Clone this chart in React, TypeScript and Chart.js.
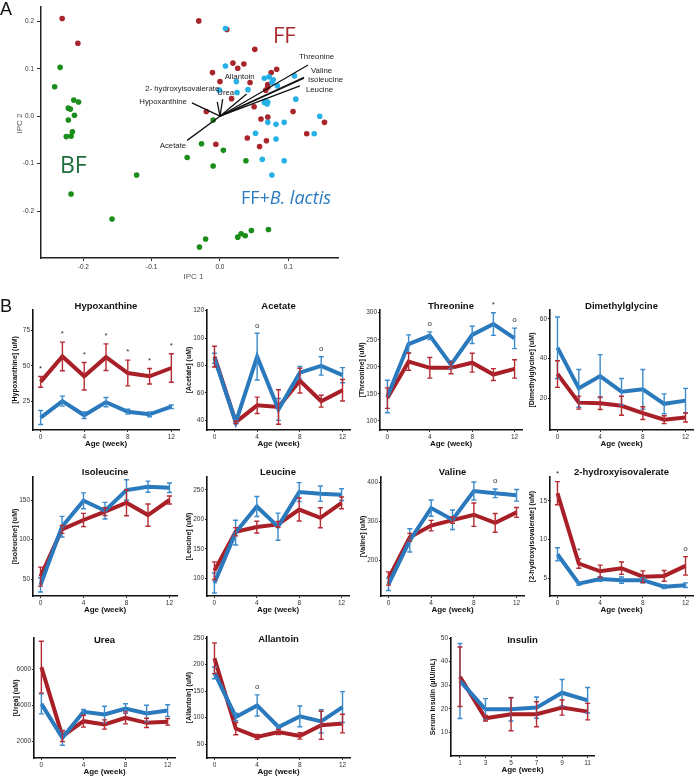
import React, { useEffect, useRef } from "react";
import { Chart, registerables } from "chart.js";

Chart.register(...registerables);

const FONT = '"Liberation Sans", Arial, Helvetica, sans-serif';
Chart.defaults.font.family = FONT;

// ---------------- Panel A data (PCA scores) ----------------
const bfX = [-0.234, -0.242, -0.214, -0.207, -0.222, -0.219, -0.213, -0.222, -0.216, -0.225, -0.218, -0.218, -0.122, -0.158, -0.048, -0.027, -0.01, 0.005, -0.01, 0.038, -0.03, -0.021, 0.026, 0.031, 0.037, 0.046, 0.071];
const bfY = [0.103, 0.062, 0.034, 0.03, 0.017, 0.015, 0.002, -0.008, -0.033, -0.043, -0.042, -0.164, -0.124, -0.217, -0.087, -0.058, -0.008, -0.072, -0.105, -0.094, -0.276, -0.259, -0.255, -0.248, -0.252, -0.241, -0.239];
const ffX = [-0.231, -0.208, -0.031, 0.01, 0.051, -0.011, 0.0, 0.019, 0.035, 0.026, 0.044, 0.017, -0.02, 0.05, 0.067, 0.07, 0.075, 0.083, 0.06, 0.07, 0.107, 0.153, 0.127, 0.04, 0.058, 0.068, -0.006, 0.07];
const ffY = [0.206, 0.154, 0.201, 0.183, 0.141, 0.092, 0.073, 0.112, 0.11, 0.101, 0.071, 0.037, 0.01, 0.02, 0.055, 0.067, 0.092, 0.099, -0.006, -0.002, 0.01, -0.013, -0.037, -0.046, -0.064, -0.052, -0.059, 0.061];
const blX = [0.008, 0.008, 0.024, 0.025, -0.001, 0.041, 0.065, 0.072, 0.078, 0.076, 0.084, 0.109, 0.111, 0.065, 0.069, 0.07, 0.066, 0.146, 0.138, 0.07, 0.082, 0.094, 0.052, 0.082, 0.062, 0.094, 0.076];
const blY = [0.185, 0.106, 0.073, 0.05, 0.055, 0.056, 0.08, 0.083, 0.077, 0.071, 0.064, 0.085, 0.036, 0.029, 0.026, 0.03, 0.032, 0.0, -0.037, -0.013, -0.017, -0.013, -0.036, -0.048, -0.091, -0.094, -0.124];

// loading vectors
const loadingNames = ["Threonine", "Valine", "Isoleucine", "Leucine", "Allantoin", "Urea", "2- hydroxyisovalerate", "Hypoxanthine", "Acetate"];
const loadingX = [0.129, 0.123, 0.123, 0.117, 0.039, 0.004, -0.004, -0.041, -0.048];
const loadingY = [0.108, 0.082, 0.08, 0.064, 0.047, 0.036, 0.03, 0.028, -0.051];

const pcaXTicks = [-0.2, -0.1, 0.0, 0.1];
const pcaYTicks = [-0.2, -0.1, 0.0, 0.1, 0.2];

// ---------------- Panel B data ----------------
const weeks = [0, 2, 4, 6, 8, 10, 12];
const weekTicks = [0, 4, 8, 12];
const insulinWeeks = [1, 3, 5, 7, 9, 11];
const insulinTicks = [1, 3, 5, 7, 9, 11];

const hypoFF = [38.7, 56.5, 42.6, 56.0, 44.9, 42.6, 48.4];
const hypoFFErr = [3.8, 10, 9.6, 9.3, 9, 5.4, 10];
const hypoBL = [13.7, 25.2, 15.3, 24.5, 17.8, 16.0, 21.3];
const hypoBLErr = [4.9, 3.5, 2.3, 3.2, 1.7, 1.7, 1.2];
const hypoTicks = [25, 50, 75];
const hypoMarks = ["*", "*", "*", "*", "*", "*", "*"];

const acetFF = [86.5, 38.7, 51, 49.8, 69, 54, 62];
const acetFFErr = [7.6, 1, 6, 12.6, 9, 4.3, 7.8];
const acetBL = [85.3, 38.7, 86.5, 48.0, 74.8, 79.7, 73];
const acetBLErr = [3.7, 1, 17, 8, 4.5, 6.7, 5.5];
const acetTicks = [40, 60, 80, 100, 120];
const acetMarks = ["", "", "o", "", "", "o", ""];

const thrFF = [142, 209.5, 198, 198, 207.5, 185.6, 196];
const thrFFErr = [19, 16, 19, 11, 17.5, 11, 17];
const thrBL = [145, 242, 257.5, 204, 259, 279, 252.5];
const thrBLErr = [30, 17, 7, 7, 16, 21, 19];
const thrTicks = [100, 150, 200, 250, 300];
const thrMarks = ["", "", "o", "", "", "*", "o"];

const dmgFF = [32.2, 17.8, 17.5, 16.2, 12.5, 9.2, 10.3];
const dmgFFErr = [6.7, 3.3, 3.2, 4.8, 3.2, 2, 2.3];
const dmgBL = [45.5, 25, 31.2, 23.3, 24.5, 17.2, 18.8];
const dmgBLErr = [15.5, 9.5, 10.8, 6.7, 10, 5, 6.2];
const dmgTicks = [20, 40, 60];
const dmgMarks = ["", "", "", "", "", "", ""];

const ileFF = [53.4, 113, 124.8, 135.3, 146.6, 131, 150];
const ileFFErr = [12, 5, 8.4, 5, 16.4, 14, 5];
const ileBL = [43, 116.4, 149, 136.5, 162.6, 166.8, 165.5];
const ileBLErr = [9, 13, 10, 10.5, 13, 7, 6];
const ileTicks = [50, 100, 150];
const ileMarks = ["", "", "", "", "", "", ""];

const leuFF = [113, 179, 187, 191.6, 216.8, 202.8, 228];
const leuFFErr = [15, 7, 10, 5, 19.5, 17, 10];
const leuBL = [92, 177.6, 222, 187.7, 246.4, 243.6, 242];
const leuBLErr = [17, 21, 17, 23, 16, 13, 10];
const leuTicks = [100, 150, 200, 250];
const leuMarks = ["", "", "", "", "", "", ""];

const valFF = [153, 259, 289, 303, 317, 296, 323];
const valFFErr = [17, 10, 13.5, 8, 30, 24, 12.7];
const valBL = [138, 251, 334, 304, 378, 372, 367];
const valBLErr = [16, 30, 21, 25, 23, 11, 15];
const valTicks = [200, 300, 400];
const valMarks = ["", "", "", "", "", "o", ""];

const hivFF = [16, 6.9, 5.9, 6.3, 5.2, 5.3, 6.6];
const hivFFErr = [1.5, 0.6, 0.8, 0.8, 0.75, 0.7, 1.2];
const hivBL = [8.1, 4.3, 4.9, 4.75, 4.75, 3.9, 4.1];
const hivBLErr = [0.85, 0.2, 0.3, 0.4, 0.35, 0.25, 0.3];
const hivTicks = [5, 10, 15];
const hivMarks = ["*", "*", "", "", "", "", "o"];

const ureaFF = [6140, 2290, 3126, 2940, 3312, 3033, 3088];
const ureaFFErr = [1450, 300, 330, 260, 335, 260, 185];
const ureaBL = [4093, 2195, 3646, 3498, 3833, 3553, 3721];
const ureaBLErr = [560, 410, 140, 465, 270, 465, 325];
const ureaTicks = [2000, 4000, 6000];
const ureaMarks = ["", "", "", "", "", "", ""];

const allFF = [212, 79.4, 63.8, 73, 65.6, 85.6, 88.8];
const allFFErr = [29, 11.5, 4.4, 5, 6, 26.5, 17.5];
const allBL = [184.4, 101.3, 123, 82.5, 102.5, 93, 120];
const allBLErr = [11, 7, 20, 3, 19.5, 22, 29];
const allTicks = [50, 100, 150, 200, 250];
const allMarks = ["", "", "o", "", "", "", ""];

const insFF = [33.6, 16, 17.7, 17.7, 20.5, 18.8];
const insFFErr = [12.6, 1.2, 7, 5.3, 3.2, 3.5];
const insBL = [31.8, 19.8, 19.8, 20.5, 26.8, 23.6];
const insBLErr = [15.9, 4.5, 5, 4.5, 5.6, 5.4];
const insTicks = [10, 20, 30, 40, 50];
const insMarks = ["", "", "", "", "", ""];

// ---------------- styles ----------------
const RED = "#a81f27";
const BLUE = "#2b79bd";
const RED_ERR = "#b52b33";
const BLUE_ERR = "#3c8bcc";
const PT_RED = "#a8252b";
const PT_GREEN = "#1b8d1b";
const PT_BLUE = "#25b0e6";

type Panel = {
  title: string;
  yTitle: string;
  x: number[];
  xTicks: number[];
  xMin: number;
  xMax: number;
  yMin: number;
  yMax: number;
  yTicks: number[];
  ff: number[];
  ffErr: number[];
  bl: number[];
  blErr: number[];
  marks: string[];
  box: [number, number, number, number];
  titleDy: number;
};

const YW = 34;
const XH = 24;
const PT = 16;

function SmallChart({ p }: { p: Panel }) {
  const ref = useRef<HTMLCanvasElement>(null);
  const [L, T, R, B] = p.box;
  const cl = L - YW;
  const ct = T - PT;
  const cw = R + 3 - cl;
  const ch = B + XH - ct;
  useEffect(() => {
    const decor = {
      id: "decor",
      afterDatasetsDraw(chart: any) {
        const { ctx, chartArea } = chart;
        const xs = chart.scales.x;
        const ys = chart.scales.y;
        ctx.save();
        const series = [
          { v: p.bl, e: p.blErr, c: BLUE_ERR },
          { v: p.ff, e: p.ffErr, c: RED_ERR },
        ];
        ctx.lineWidth = 1.4;
        series.forEach((s) => {
          ctx.strokeStyle = s.c;
          s.v.forEach((v, i) => {
            const px = xs.getPixelForValue(p.x[i]);
            const top = ys.getPixelForValue(v + s.e[i]);
            const bot = ys.getPixelForValue(v - s.e[i]);
            ctx.beginPath();
            ctx.moveTo(px, top);
            ctx.lineTo(px, bot);
            ctx.moveTo(px - 2.5, top);
            ctx.lineTo(px + 2.5, top);
            ctx.moveTo(px - 2.5, bot);
            ctx.lineTo(px + 2.5, bot);
            ctx.stroke();
          });
        });
        // significance marks
        ctx.fillStyle = "#333";
        ctx.font = `8px ${FONT}`;
        ctx.textAlign = "center";
        ctx.textBaseline = "middle";
        p.marks.forEach((m, i) => {
          if (!m) return;
          const top = Math.min(
            ys.getPixelForValue(p.bl[i] + p.blErr[i]),
            ys.getPixelForValue(p.ff[i] + p.ffErr[i])
          );
          ctx.fillText(m, xs.getPixelForValue(p.x[i]), top - 8);
        });
        // chart title
        ctx.fillStyle = "#111";
        ctx.font = `bold 9.5px ${FONT}`;
        ctx.fillText(p.title, (chartArea.left + chartArea.right) / 2, chartArea.top + p.titleDy);
        // x title
        ctx.font = `bold 8px ${FONT}`;
        ctx.fillText("Age (week)", (chartArea.left + chartArea.right) / 2, chartArea.bottom + 14);
        // y title
        ctx.font = `bold 7px ${FONT}`;
        ctx.translate(chartArea.left - 18, (chartArea.top + chartArea.bottom) / 2);
        ctx.rotate(-Math.PI / 2);
        ctx.fillText(p.yTitle, 0, 0);
        ctx.restore();
      },
    };
    const chart = new Chart(ref.current as HTMLCanvasElement, {
      type: "line",
      data: {
        datasets: [
          {
            data: p.x.map((x, i) => ({ x, y: p.bl[i] })),
            borderColor: BLUE,
            borderWidth: 4,
            pointRadius: 0,
            tension: 0,
            fill: false,
          },
          {
            data: p.x.map((x, i) => ({ x, y: p.ff[i] })),
            borderColor: RED,
            borderWidth: 4,
            pointRadius: 0,
            tension: 0,
            fill: false,
          },
        ],
      },
      options: {
        animation: false,
        responsive: false,
        events: [],
        layout: { padding: { top: PT, right: 3, left: 0, bottom: 0 } },
        plugins: { legend: { display: false }, tooltip: { enabled: false } },
        scales: {
          x: {
            type: "linear",
            min: p.xMin,
            max: p.xMax,
            afterBuildTicks: (s: any) => {
              s.ticks = p.xTicks.map((v) => ({ value: v }));
            },
            afterFit: (s: any) => {
              s.height = XH;
            },
            grid: { drawOnChartArea: false, tickLength: 2, color: "#222" },
            border: { color: "#111", width: 1.6 },
            ticks: {
              font: { size: 6.5 },
              color: "#333",
              padding: 1,
              maxRotation: 0,
              autoSkip: false,
              callback: (v: any) => String(v),
            },
          },
          y: {
            type: "linear",
            min: p.yMin,
            max: p.yMax,
            afterBuildTicks: (s: any) => {
              s.ticks = p.yTicks.map((v) => ({ value: v }));
            },
            afterFit: (s: any) => {
              s.width = YW;
            },
            grid: { drawOnChartArea: false, tickLength: 2, color: "#222" },
            border: { color: "#111", width: 1.6 },
            ticks: {
              font: { size: 6.5 },
              color: "#333",
              padding: 1,
              autoSkip: false,
              callback: (v: any) => String(v),
            },
          },
        },
      } as any,
      plugins: [decor],
    });
    return () => chart.destroy();
  }, []);
  return (
    <canvas
      ref={ref}
      width={cw}
      height={ch}
      style={{ position: "absolute", left: cl, top: ct, width: cw, height: ch }}
    />
  );
}

// label offsets from each loading vector end (px): dx, dy, align
const LABEL_OFFSETS: [number, number, CanvasTextAlign][] = [
  [-9, -8, "left"],
  [7, -6, "left"],
  [4, 2, "left"],
  [6, 4, "left"],
  [-7, -17, "center"],
  [3, -6, "center"],
  [2, -13, "right"],
  [-5, -1, "right"],
  [-1, 5, "right"],
];

function PcaChart() {
  const ref = useRef<HTMLCanvasElement>(null);
  const W = 345;
  const H = 285;
  useEffect(() => {
    const pts = (xs: number[], ys: number[]) => xs.map((x, i) => ({ x, y: ys[i] }));
    const decor = {
      id: "pcaDecor",
      afterDatasetsDraw(chart: any) {
        const { ctx, chartArea } = chart;
        const xs = chart.scales.x;
        const ys = chart.scales.y;
        ctx.save();
        ctx.font = `7.8px ${FONT}`;
        ctx.fillStyle = "#222";
        ctx.textBaseline = "middle";
        loadingNames.forEach((n, i) => {
          const o = LABEL_OFFSETS[i];
          ctx.textAlign = o[2];
          ctx.fillText(n, xs.getPixelForValue(loadingX[i]) + o[0], ys.getPixelForValue(loadingY[i]) + o[1]);
        });
        // group labels
        ctx.textBaseline = "alphabetic";
        ctx.textAlign = "left";
        ctx.font = `22px "Open Sans", ${FONT}`;
        ctx.fillStyle = "#a72a30";
        ctx.fillText("FF", 273, 43);
        ctx.fillStyle = "#1f6d3d";
        ctx.font = `23px "Open Sans", ${FONT}`;
        ctx.fillText("BF", 60, 173);
        ctx.fillStyle = "#2a7bc0";
        ctx.font = `18px "Open Sans", ${FONT}`;
        const pre = "FF+";
        ctx.fillText(pre, 241, 204);
        const w = ctx.measureText(pre).width;
        ctx.font = `italic 18px "Open Sans", ${FONT}`;
        ctx.fillText("B. lactis", 241 + w, 204);
        // axis titles
        ctx.font = `8px ${FONT}`;
        ctx.fillStyle = "#555";
        ctx.textAlign = "center";
        ctx.textBaseline = "middle";
        ctx.fillText("IPC 1", (chartArea.left + chartArea.right) / 2 + 4, chartArea.bottom + 19);
        ctx.translate(chartArea.left - 21, (chartArea.top + chartArea.bottom) / 2 - 9);
        ctx.rotate(-Math.PI / 2);
        ctx.fillText("IPC 2", 0, 0);
        ctx.restore();
      },
    };
    const lineSets = loadingNames.map((n, i) => ({
      label: n,
      data: [
        { x: 0, y: 0 },
        { x: loadingX[i], y: loadingY[i] },
      ],
      showLine: true,
      borderColor: "#111",
      borderWidth: 1.3,
      pointRadius: 0,
    }));
    const chart = new Chart(ref.current as HTMLCanvasElement, {
      type: "scatter",
      data: {
        datasets: [
          ...lineSets,
          { label: "FF+B. lactis", data: pts(blX, blY), backgroundColor: PT_BLUE, pointRadius: 2.8, borderWidth: 0 },
          { label: "FF", data: pts(ffX, ffY), backgroundColor: PT_RED, pointRadius: 2.8, borderWidth: 0 },
          { label: "BF", data: pts(bfX, bfY), backgroundColor: PT_GREEN, pointRadius: 2.8, borderWidth: 0 },
        ],
      },
      options: {
        animation: false,
        responsive: false,
        events: [],
        layout: { padding: { top: 6, right: W - 338, left: 0, bottom: 0 } },
        plugins: { legend: { display: false }, tooltip: { enabled: false } },
        scales: {
          x: {
            type: "linear",
            min: -0.262,
            max: 0.1728,
            afterBuildTicks: (s: any) => {
              s.ticks = pcaXTicks.map((v) => ({ value: v }));
            },
            afterFit: (s: any) => {
              s.height = H - 258;
            },
            grid: { drawOnChartArea: false, tickLength: 3, color: "#333" },
            border: { color: "#222", width: 1.5 },
            ticks: {
              font: { size: 6.5 },
              color: "#333",
              padding: 2,
              maxRotation: 0,
              autoSkip: false,
              callback: (v: any) => Number(v).toFixed(1),
            },
          },
          y: {
            type: "linear",
            min: -0.299,
            max: 0.2305,
            afterBuildTicks: (s: any) => {
              s.ticks = pcaYTicks.map((v) => ({ value: v }));
            },
            afterFit: (s: any) => {
              s.width = 41;
            },
            grid: { drawOnChartArea: false, tickLength: 4, color: "#333" },
            border: { color: "#222", width: 1.5 },
            ticks: {
              font: { size: 6.5 },
              color: "#333",
              padding: 3,
              autoSkip: false,
              callback: (v: any) => Number(v).toFixed(1),
            },
          },
        },
      } as any,
      plugins: [decor],
    });
    return () => chart.destroy();
  }, []);
  return <canvas ref={ref} width={W} height={H} style={{ position: "absolute", left: 0, top: 0, width: W, height: H }} />;
}

const XMIN = -0.7;
const XMAX = 12.7;

const panels: Panel[] = [
  { title: "Hypoxanthine", yTitle: "[Hypoxanthine] (uM)", x: weeks, xTicks: weekTicks, xMin: XMIN, xMax: XMAX, yMin: 5, yMax: 89, yTicks: hypoTicks, ff: hypoFF, ffErr: hypoFFErr, bl: hypoBL, blErr: hypoBLErr, marks: hypoMarks, box: [33, 310, 179, 430], titleDy: -4 },
  { title: "Acetate", yTitle: "[Acetate] (uM)", x: weeks, xTicks: weekTicks, xMin: XMIN, xMax: XMAX, yMin: 33, yMax: 120.5, yTicks: acetTicks, ff: acetFF, ffErr: acetFFErr, bl: acetBL, blErr: acetBLErr, marks: acetMarks, box: [207, 310, 350, 430], titleDy: -4 },
  { title: "Threonine", yTitle: "[Threonine] (uM)", x: weeks, xTicks: weekTicks, xMin: XMIN, xMax: XMAX, yMin: 83, yMax: 305, yTicks: thrTicks, ff: thrFF, ffErr: thrFFErr, bl: thrBL, blErr: thrBLErr, marks: thrMarks, box: [380, 310, 522, 430], titleDy: -4 },
  { title: "Dimethylglycine", yTitle: "[Dimethylglycine] (uM)", x: weeks, xTicks: weekTicks, xMin: XMIN, xMax: XMAX, yMin: 4, yMax: 64.5, yTicks: dmgTicks, ff: dmgFF, ffErr: dmgFFErr, bl: dmgBL, blErr: dmgBLErr, marks: dmgMarks, box: [550, 310, 693, 430], titleDy: -4 },
  { title: "Isoleucine", yTitle: "[Isoleucine] (uM)", x: weeks, xTicks: weekTicks, xMin: XMIN, xMax: XMAX, yMin: 29, yMax: 179, yTicks: ileTicks, ff: ileFF, ffErr: ileFFErr, bl: ileBL, blErr: ileBLErr, marks: ileMarks, box: [33, 477, 177, 596], titleDy: -5 },
  { title: "Leucine", yTitle: "[Leucine] (uM)", x: weeks, xTicks: weekTicks, xMin: XMIN, xMax: XMAX, yMin: 70, yMax: 272, yTicks: leuTicks, ff: leuFF, ffErr: leuFFErr, bl: leuBL, blErr: leuBLErr, marks: leuMarks, box: [207, 477, 349, 596], titleDy: -5 },
  { title: "Valine", yTitle: "[Valine] (uM)", x: weeks, xTicks: weekTicks, xMin: XMIN, xMax: XMAX, yMin: 108, yMax: 414, yTicks: valTicks, ff: valFF, ffErr: valFFErr, bl: valBL, blErr: valBLErr, marks: valMarks, box: [381, 477, 524, 596], titleDy: -5 },
  { title: "2-hydroxyisovalerate", yTitle: "[2-hydroxyisovalerate] (uM)", x: weeks, xTicks: weekTicks, xMin: XMIN, xMax: XMAX, yMin: 2.7, yMax: 18.1, yTicks: hivTicks, ff: hivFF, ffErr: hivFFErr, bl: hivBL, blErr: hivBLErr, marks: hivMarks, box: [550, 477, 693, 596], titleDy: -5 },
  { title: "Urea", yTitle: "[Urea] (uM)", x: weeks, xTicks: weekTicks, xMin: XMIN, xMax: XMAX, yMin: 1070, yMax: 7770, yTicks: ureaTicks, ff: ureaFF, ffErr: ureaFFErr, bl: ureaBL, blErr: ureaBLErr, marks: ureaMarks, box: [34, 638, 175, 758], titleDy: 2 },
  { title: "Allantoin", yTitle: "[Allantoin] (uM)", x: weeks, xTicks: weekTicks, xMin: XMIN, xMax: XMAX, yMin: 24, yMax: 252, yTicks: allTicks, ff: allFF, ffErr: allFFErr, bl: allBL, blErr: allBLErr, marks: allMarks, box: [207, 637, 350, 758], titleDy: 2 },
  { title: "Insulin", yTitle: "Serum Insulin (\u03bcIU/mL)", x: insulinWeeks, xTicks: insulinTicks, xMin: 0.3, xMax: 11.5, yMin: 0, yMax: 50, yTicks: insTicks, ff: insFF, ffErr: insFFErr, bl: insBL, blErr: insBLErr, marks: insMarks, box: [451, 638, 594, 756], titleDy: 2 },
];

export default function App() {
  return (
    <div
      style={{
        position: "absolute",
        left: 0,
        top: 0,
        width: 696,
        height: 777,
        overflow: "hidden",
        background: "#fff",
        fontFamily: FONT,
      }}
    >
      <PcaChart />
      {panels.map((p) => (
        <SmallChart key={p.title} p={p} />
      ))}
      <div style={{ position: "absolute", left: 0, top: 0, fontSize: 18, lineHeight: "18px", color: "#111" }}>A</div>
      <div style={{ position: "absolute", left: 0, top: 297, fontSize: 18, lineHeight: "18px", color: "#111" }}>B</div>
    </div>
  );
}
